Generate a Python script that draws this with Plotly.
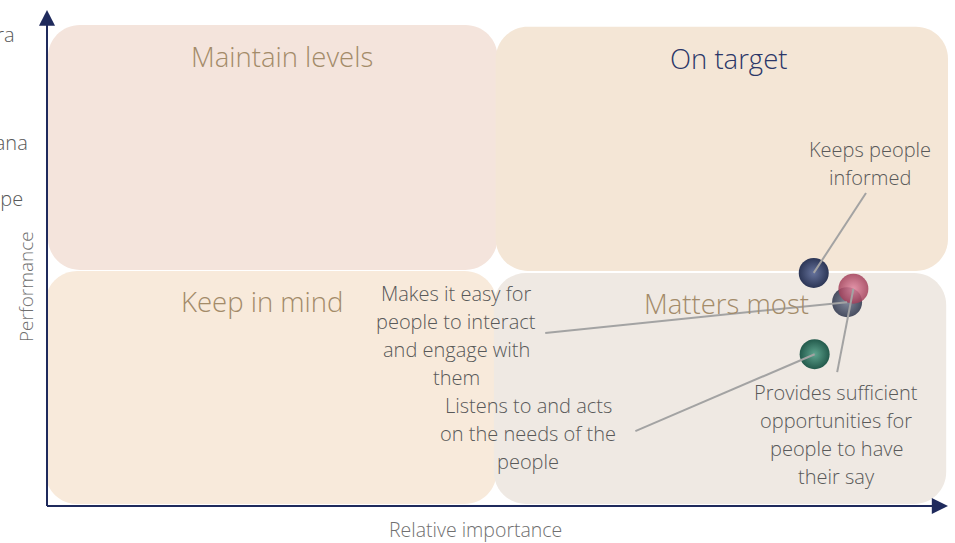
import plotly.graph_objects as go

# Data: quadrant chart of statements (relative importance vs performance)
statements = [
    'Keeps people informed',
    'Makes it easy for people to interact and engage with them',
    'Provides sufficient opportunities for people to have their say',
    'Listens to and acts on the needs of the people',
]
importance = [85.1, 88.8, 89.5, 85.2]
performance = [47.0, 41.1, 43.8, 30.6]
ball_edge = ['#2c3656', '#474d60', '#a3405a', '#235a4c']
ball_centre = ['#66739c', '#81889a', '#e287a0', '#5fa58f']
ball_opacity = [1, 1, 0.85, 1]

# label text, split into lines, and where the label sits
label_lines = [
    ['Keeps people', 'informed'],
    ['Makes it easy for', 'people to interact', 'and engage with', 'them'],
    ['Provides sufficient', 'opportunities for', 'people to have', 'their say'],
    ['Listens to and acts', 'on the needs of the', 'people'],
]
label_x = [91.3, 45.4, 87.6, 53.4]
label_y = [69.0, 34.3, 14.5, 14.7]
# where the leader line leaves the label
leader_x = [90.9, 55.3, 87.7, 65.3]
leader_y = [63.1, 34.9, 27.0, 15.1]

quadrants = ['Maintain levels', 'On target', 'Keep in mind', 'Matters most']
quadrant_fill = ['#f4e4dc', '#f4e6d6', '#f8eadb', '#efe9e3']
quadrant_title_color = ['#a38b69', '#2b3768', '#a38b69', '#a38b69']

cut_labels = ['Sierra', 'Botswana', 'Europe']

W, H = 955, 543
L, R, T, B = 47, 7, 10, 37
px_x = (W - L - R) / 100.0
px_y = (H - T - B) / 100.0


def rounded_rect(x0, y0, x1, y1, rad=32):
    rx, ry = rad / px_x, rad / px_y
    k = 0.5523
    return (f'M {x0+rx},{y1} L {x1-rx},{y1} '
            f'C {x1-rx+k*rx},{y1} {x1},{y1-ry+k*ry} {x1},{y1-ry} '
            f'L {x1},{y0+ry} '
            f'C {x1},{y0+ry-k*ry} {x1-rx+k*rx},{y0} {x1-rx},{y0} '
            f'L {x0+rx},{y0} '
            f'C {x0+rx-k*rx},{y0} {x0},{y0+ry-k*ry} {x0},{y0+ry} '
            f'L {x0},{y1-ry} '
            f'C {x0},{y1-ry+k*ry} {x0+rx-k*rx},{y1} {x0+rx},{y1} Z')


# quadrant boxes (x0, y0, x1, y1) in axis units
boxes = [(0.1, 47.6, 50.0, 97.0), (49.8, 47.4, 100.0, 96.6),
         (-0.2, 0.4, 49.9, 47.4), (49.6, 0.4, 99.8, 47.0)]
title_pos = [(26.1, 90.7), (75.6, 90.2), (23.9, 41.3), (75.4, 40.9)]

fig = go.Figure()

shapes = []
for (x0, y0, x1, y1), c in zip(boxes, quadrant_fill):
    shapes.append(dict(type='path', path=rounded_rect(x0, y0, x1, y1),
                       xref='x', yref='y', fillcolor=c, line_width=0, layer='below'))

# axis arrows
axis_col = '#1f2a5c'
shapes.append(dict(type='line', xref='paper', yref='paper', x0=0, y0=0, x1=0.985, y1=0,
                   line=dict(color=axis_col, width=2)))
shapes.append(dict(type='line', xref='paper', yref='paper', x0=0, y0=0, x1=0, y1=0.97,
                   line=dict(color=axis_col, width=2)))
shapes.append(dict(type='path', xref='paper', yref='paper',
                   path='M 1,0 L 0.982,0.016 L 0.982,-0.016 Z',
                   fillcolor=axis_col, line_width=0))
shapes.append(dict(type='path', xref='paper', yref='paper',
                   path='M 0,1 L -0.0089,0.968 L 0.0089,0.968 Z',
                   fillcolor=axis_col, line_width=0))

# balls
for i in range(len(statements)):
    fig.add_trace(go.Scatter(
        x=[importance[i]], y=[performance[i]], mode='markers',
        opacity=ball_opacity[i],
        marker=dict(size=30, color=ball_edge[i], line_width=0,
                    gradient=dict(type='radial', color=ball_centre[i])),
        name=statements[i], hoverinfo='name', showlegend=False))

# leader lines on top of balls
for i in range(len(statements)):
    fig.add_trace(go.Scatter(
        x=[leader_x[i], importance[i]], y=[leader_y[i], performance[i]],
        mode='lines', line=dict(color='#a3a3a3', width=2),
        hoverinfo='skip', showlegend=False))

font_fam = 'Open Sans'
text_col = '#595959'
annotations = []
for q, (tx, ty), col in zip(quadrants, title_pos, quadrant_title_color):
    annotations.append(dict(x=tx, y=ty, xref='x', yref='y', text=q, showarrow=False,
                            font=dict(family=font_fam, size=27.5, color=col, weight=300)))

for lines, lx, ly in zip(label_lines, label_x, label_y):
    n = len(lines)
    for j, t in enumerate(lines):
        annotations.append(dict(x=lx, y=ly, xref='x', yref='y', text=t, showarrow=False,
                                yshift=((n - 1) / 2 - j) * 28,
                                font=dict(family=font_fam, size=20, color=text_col, weight=300)))

annotations.append(dict(x=0.476, y=-0.048, xref='paper', yref='paper',
                        text='Relative importance', showarrow=False,
                        xanchor='center', yanchor='middle',
                        font=dict(family=font_fam, size=19.5, color='#707070', weight=300)))
annotations.append(dict(x=-0.0233, y=0.4415, xref='paper', yref='paper',
                        text='Performance', showarrow=False, textangle=-90,
                        xanchor='center', yanchor='middle',
                        font=dict(family=font_fam, size=19, color='#707070', weight=300)))

# labels of a neighbouring chart, cut off at the left edge
for t, cx, cy in zip(cut_labels, [-0.0333, -0.0189, -0.0244], [0.9516, 0.7319, 0.619]):
    annotations.append(dict(x=cx, y=cy, xref='paper', yref='paper', text=t,
                            showarrow=False, xanchor='right', yanchor='middle',
                            font=dict(family=font_fam, size=20, color=text_col, weight=300)))

fig.update_layout(
    width=W, height=H,
    margin=dict(l=L, r=R, t=T, b=B),
    paper_bgcolor='white', plot_bgcolor='white',
    xaxis=dict(range=[0, 100], visible=False, fixedrange=True),
    yaxis=dict(range=[0, 100], visible=False, fixedrange=True),
    shapes=shapes, annotations=annotations,
)

# the page's default 8px body margin would shift the whole chart
fig.write_html("out.html", config={'displayModeBar': False},
               post_script="document.body.style.margin = '0';")
